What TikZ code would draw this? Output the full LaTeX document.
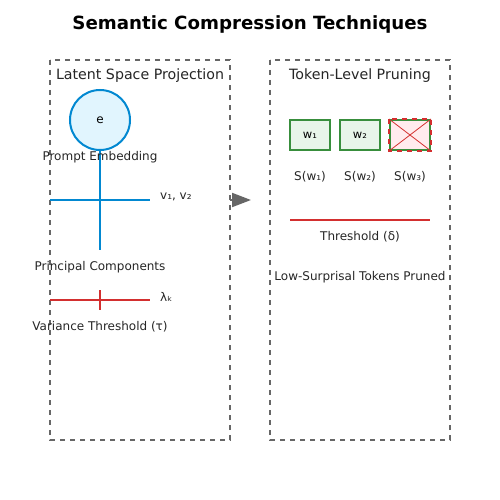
\documentclass[tikz,border=0pt]{standalone}
\usepackage{fontspec}
\setmainfont{DejaVu Sans}
\usetikzlibrary{arrows.meta}
\definecolor{boxgray}{HTML}{666666}
\definecolor{pblue}{HTML}{0288D1}
\definecolor{lblue}{HTML}{E1F5FE}
\definecolor{pred}{HTML}{D32F2F}
\definecolor{pgreen}{HTML}{388E3C}
\definecolor{lgreen}{HTML}{E8F5E9}
\definecolor{lpink}{HTML}{FFEBEE}
\tikzset{
  panel/.style={draw=boxgray, line width=1.5pt, dash pattern=on 5pt off 5pt},
  lbl/.style={font=\fontsize{12}{14}\selectfont, text=black!85, inner sep=0pt},
  sublbl/.style={font=\fontsize{12}{14}\selectfont, text=black!85, inner sep=0pt},
  head/.style={font=\fontsize{14.2}{16}\selectfont, text=black!85, inner sep=0pt},
  tok/.style={draw=pgreen, fill=lgreen, line width=2pt, minimum width=40pt, minimum height=30pt, inner sep=0pt, font=\fontsize{11.5}{13}\selectfont},
}
\begin{document}
\begin{tikzpicture}[x=1pt,y=-1pt]
\useasboundingbox (0,0) rectangle (500,500);
\fill[white] (0,0) rectangle (500,500);
\node[font=\bfseries\fontsize{18.2}{20}\selectfont, inner sep=0pt] (title) at (250,24) {Semantic Compression Techniques};
% panels
\draw[panel] (50,60) rectangle (230,440);
\draw[panel] (270,60) rectangle (450,440);
\coordinate (lpr) at (230,200);
\coordinate (rpl) at (251,200);
\node[head] (lt) at (140,76) {Latent Space Projection};
\node[head] (rt) at (360,76) {Token-Level Pruning};
% left panel
\coordinate (vt) at (100,150);
\coordinate (vb) at (100,250);
\coordinate (hl) at (50,200);
\coordinate (hr) at (150,200);
\draw[pblue, line width=2pt] (vt) -- (vb);
\draw[pblue, line width=2pt] (hl) -- (hr);
\node[circle, draw=pblue, fill=lblue, line width=2pt, minimum size=60pt, inner sep=0pt, font=\fontsize{12}{14}\selectfont] (e) at (100,120) {e};
\node[lbl] (pe) at (100,157) {Prompt Embedding};
\node[sublbl, anchor=west] (vv) at (160,197) {v₁, v₂};
\node[lbl] (pc) at (100,267) {Principal Components};
\coordinate (rl) at (50,300);
\coordinate (rr) at (150,300);
\coordinate (rtt) at (100,290);
\coordinate (rtb) at (100,310);
\draw[pred, line width=2pt] (rl) -- (rr);
\draw[pred, line width=2pt] (rtt) -- (rtb);
\node[sublbl, anchor=west] (lk) at (160,297) {λₖ};
\node[lbl] (vt2) at (100,327) {Variance Threshold (τ)};
% right panel
\node[tok] (w1) at (310,135) {w₁};
\node[tok] (w2) at (360,135) {w₂};
\node[tok, fill=lpink] (w3) at (410,135) {};
\draw[pred, line width=0.8pt] (w3.north west) -- (w3.south east);
\draw[pred, line width=0.8pt] (w3.south west) -- (w3.north east);
\draw[pred, line width=2pt, dash pattern=on 5pt off 5pt] (w3.north west) rectangle (w3.south east);
\node[lbl] (s1) at (310,177) {S(w₁)};
\node[lbl] (s2) at (360,177) {S(w₂)};
\node[lbl] (s3) at (410,177) {S(w₃)};
\coordinate (tl) at (290,220);
\coordinate (tr) at (430,220);
\draw[pred, line width=1.5pt] (tl) -- (tr);
\node[lbl] (th) at (360,237) {Threshold (δ)};
\node[lbl] (lsp) at (360,277) {Low-Surprisal Tokens Pruned};
% arrow
\draw[boxgray, line width=2pt, -{Triangle[length=19pt,width=14pt]}] (lpr) -- (rpl);
\end{tikzpicture}
\end{document}
